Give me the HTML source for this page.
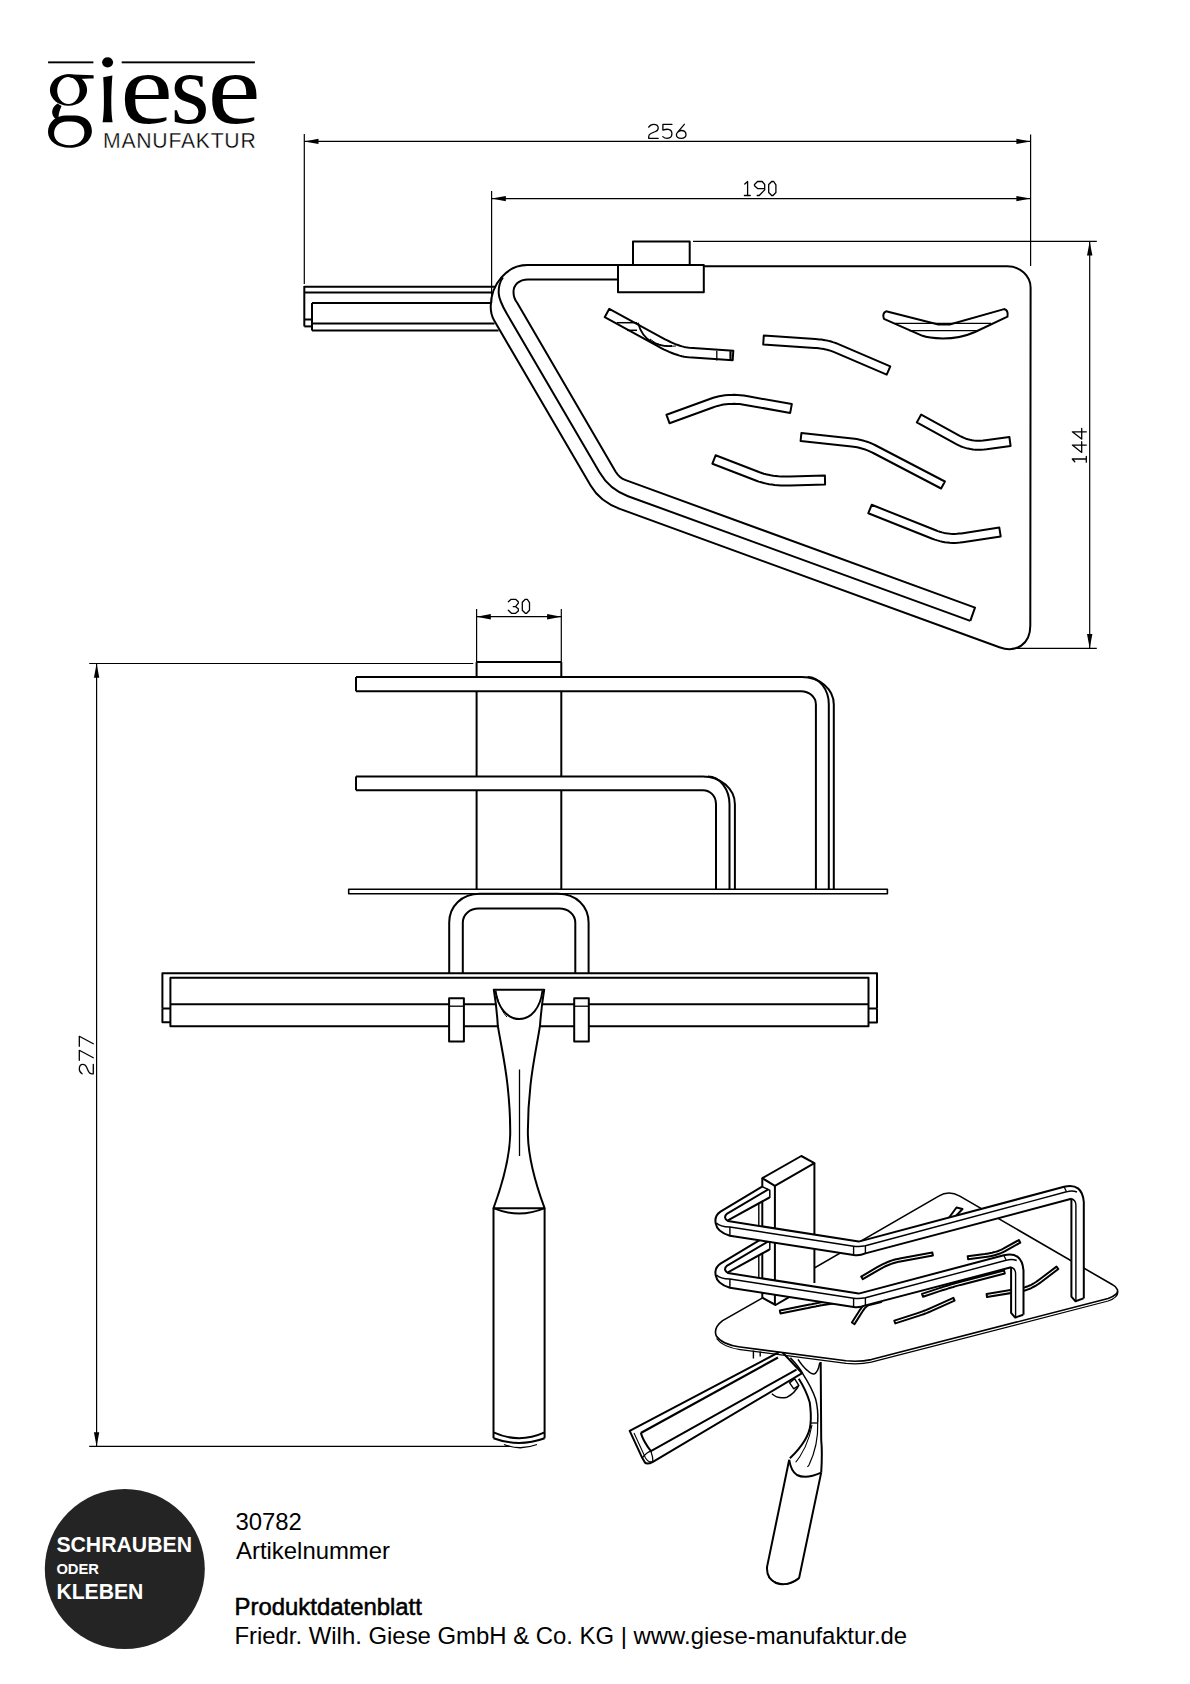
<!DOCTYPE html>
<html><head><meta charset="utf-8">
<style>
html,body{margin:0;padding:0;background:#fff;}
body{width:1190px;height:1684px;overflow:hidden;position:relative;}
svg{position:absolute;left:0;top:0;}
</style></head><body>
<svg width="1190" height="1684" viewBox="0 0 1190 1684" stroke="#000" fill="none" stroke-linecap="butt">
<line x1="304.3" y1="134.0" x2="304.3" y2="284.0" stroke-width="1.2"/>
<line x1="1030.6" y1="134.5" x2="1030.6" y2="266.0" stroke-width="1.2"/>
<line x1="304.3" y1="141.4" x2="1030.6" y2="141.4" stroke-width="1.2"/>
<path d="M304.3,141.4 L318.5,138.7 L318.5,144.1 Z" fill="#000" stroke="none"/>
<path d="M1030.6,141.4 L1016.4,144.1 L1016.4,138.7 Z" fill="#000" stroke="none"/>
<g transform="translate(648.7,124.3) scale(1.0)" stroke-width="1.30" fill="none" stroke-linejoin="round" stroke-linecap="round"><path transform="translate(0.00,0)" d="M0,2.8 Q1.8,0 4.8,0 Q9.5,0 9.5,3.6 Q9.5,6 6.8,7.2 L2.2,9.2 Q0,10.2 0,12.4 L0,14 L9.5,14"/><path transform="translate(13.90,0)" d="M9.4,0 L0.3,0 L0.3,5.8 Q3,4.8 5.8,5 Q9.3,5.5 9.3,9.5 Q9.3,14 4.6,14 Q2,14 0.2,12.3"/><path transform="translate(27.70,0)" d="M7.9,0 L1.1,8 Q0,9.3 0,10.5 Q0,14 4.8,14 Q9.6,14 9.6,10.2 Q9.6,6.2 4.8,6.2 Q2.6,6.2 1.1,8"/></g>
<line x1="491.6" y1="191.0" x2="491.6" y2="303.0" stroke-width="1.2"/>
<line x1="491.6" y1="198.6" x2="1030.6" y2="198.6" stroke-width="1.2"/>
<path d="M491.6,198.6 L505.8,195.9 L505.8,201.3 Z" fill="#000" stroke="none"/>
<path d="M1030.6,198.6 L1016.4,201.3 L1016.4,195.9 Z" fill="#000" stroke="none"/>
<g transform="translate(744.6,181.5) scale(1.0)" stroke-width="1.30" fill="none" stroke-linejoin="round" stroke-linecap="round"><path transform="translate(0.00,0)" d="M0.2,2.5 L3,0 L3,14 M-0.2,14 L5.6,14"/><path transform="translate(9.60,0)" d="M0.3,3 L3.3,0 L8,0 L10.5,3 L10.5,8.4 L5,14 L3,14 M10.5,7.2 L3.6,7.2 L0.3,4.3 L0.3,3"/><path transform="translate(24.10,0)" d="M0,3 L3,0 L5,0 L7.2,3.3 L7.2,11 L4.3,14 L3,14 L0,11 Z"/></g>
<line x1="693.0" y1="241.4" x2="1096.8" y2="241.4" stroke-width="1.2"/>
<line x1="1012.0" y1="648.3" x2="1096.8" y2="648.3" stroke-width="1.2"/>
<line x1="1089.7" y1="241.4" x2="1089.7" y2="648.3" stroke-width="1.2"/>
<path d="M1089.7,241.4 L1092.4,255.6 L1087.0,255.6 Z" fill="#000" stroke="none"/>
<path d="M1089.7,648.3 L1087.0,634.1 L1092.4,634.1 Z" fill="#000" stroke="none"/>
<g transform="translate(1072.3,462.0) rotate(-90) scale(1.0)" stroke-width="1.30" fill="none" stroke-linejoin="round" stroke-linecap="round"><path transform="translate(0.00,0)" d="M0.2,2.5 L3,0 L3,14 M-0.2,14 L5.6,14"/><path transform="translate(9.60,0)" d="M7.3,14 L7.3,0 L0,9.4 L10.7,9.4"/><path transform="translate(22.90,0)" d="M7.3,14 L7.3,0 L0,9.4 L10.7,9.4"/></g>
<line x1="476.6" y1="609.0" x2="476.6" y2="662.0" stroke-width="1.2"/>
<line x1="561.3" y1="609.0" x2="561.3" y2="662.0" stroke-width="1.2"/>
<line x1="476.6" y1="616.7" x2="561.3" y2="616.7" stroke-width="1.2"/>
<path d="M476.6,616.7 L490.8,614.0 L490.8,619.4 Z" fill="#000" stroke="none"/>
<path d="M561.3,616.7 L547.1,619.4 L547.1,614.0 Z" fill="#000" stroke="none"/>
<g transform="translate(508.3,599.3) scale(1.0)" stroke-width="1.30" fill="none" stroke-linejoin="round" stroke-linecap="round"><path transform="translate(0.00,0)" d="M0,2.4 L2.9,0 L7.3,0 L10,2.5 L10,3.9 L7.3,7.4 L5,7.4 M7.3,7.4 L10,9.5 L10,11.6 L7.3,14 L3.2,14 L0,11"/><path transform="translate(14.00,0)" d="M0,3 L3,0 L5,0 L7.2,3.3 L7.2,11 L4.3,14 L3,14 L0,11 Z"/></g>
<line x1="89.2" y1="663.5" x2="473.3" y2="663.5" stroke-width="1.2"/>
<line x1="89.2" y1="1446.4" x2="510.0" y2="1446.4" stroke-width="1.2"/>
<line x1="96.6" y1="663.5" x2="96.6" y2="1446.4" stroke-width="1.2"/>
<path d="M96.6,663.5 L99.3,677.7 L93.9,677.7 Z" fill="#000" stroke="none"/>
<path d="M96.6,1446.4 L93.9,1432.2 L99.3,1432.2 Z" fill="#000" stroke="none"/>
<g transform="translate(79.3,1073.8) rotate(-90) scale(1.0)" stroke-width="1.30" fill="none" stroke-linejoin="round" stroke-linecap="round"><path transform="translate(0.00,0)" d="M0,2.8 Q1.8,0 4.8,0 Q9.5,0 9.5,3.6 Q9.5,6 6.8,7.2 L2.2,9.2 Q0,10.2 0,12.4 L0,14 L9.5,14"/><path transform="translate(13.50,0)" d="M0,0 L10,0 L2.6,14"/><path transform="translate(27.50,0)" d="M0,0 L10,0 L2.6,14"/></g>
<g stroke-linejoin="round">
<line x1="304.3" y1="286.8" x2="495.5" y2="286.8" stroke-width="2.0"/>
<line x1="304.3" y1="292.4" x2="492.5" y2="292.4" stroke-width="2.0"/>
<line x1="312.0" y1="302.9" x2="490.6" y2="302.9" stroke-width="2.0"/>
<line x1="312.0" y1="323.5" x2="494.5" y2="323.5" stroke-width="2.0"/>
<line x1="312.0" y1="330.4" x2="498.6" y2="330.4" stroke-width="2.0"/>
<line x1="304.3" y1="286.0" x2="304.3" y2="326.4" stroke-width="2.0"/>
<line x1="304.3" y1="326.4" x2="312.0" y2="326.4" stroke-width="2.0"/>
<line x1="304.3" y1="319.5" x2="312.0" y2="319.5" stroke-width="2.0"/>
<line x1="312.0" y1="302.9" x2="312.0" y2="330.6" stroke-width="2.0"/>
<path d="M618,265.1 L527.5,265.1 C507,265.1 490.7,284 490.7,306.5 C490.7,312 491.8,316.5 494.2,320.6 L590.6,485.6 Q600,501.7 619.8,508.9 L999.4,647.3 C1016.4,653.5 1030.3,643.8 1030.3,625.7 L1030.6,287.7 C1030.6,275.9 1020.1,266.2 1007.3,266.2 L703.8,266.2" stroke-width="2.0" fill="none" />
<path d="M503,277.5 C499.5,282 498.5,288 498.7,293.4 C499,300 504.3,309.3 506.6,313.3 L599.5,472.3 Q609.4,489.4 628,496.2 L970.3,620.9" stroke-width="2.0" fill="none" />
<path d="M618,279.4 L528,279.4 C519,279.4 513.5,285 513.5,292 C513.5,296 515,300 517,302.5 L615.5,471.5 Q619.5,478 625,479.9 L975,607.6 L970.3,620.9" stroke-width="2.0" fill="none" />
<rect x="633" y="241.4" width="56.7" height="23.5" stroke-width="2.0" fill="none"/>
<rect x="618" y="265" width="85.8" height="27.3" stroke-width="2.0" fill="none"/>
<path d="M604.7,317.2 L657.7,346.2 L660.7,347.8 L663.6,349.3 L666.5,350.6 L669.2,351.9 L671.9,353.0 L674.5,354.0 L677.1,354.8 L679.5,355.6 L681.9,356.2 L684.2,356.7 L686.5,357.0 L688.7,357.2 L732.7,360.2 L733.3,350.8 L689.3,347.8 L687.7,347.6 L685.9,347.3 L684.1,346.9 L682.1,346.4 L680.0,345.8 L677.8,345.0 L675.4,344.1 L673.0,343.1 L670.5,342.0 L667.9,340.7 L665.1,339.3 L662.3,337.8 L609.3,308.8 Z" stroke-width="2.0" fill="none" />
<path d="M763.2,344.5 L814.7,348.0 L816.7,348.1 L818.6,348.3 L820.4,348.6 L822.2,348.8 L823.9,349.1 L825.5,349.4 L827.1,349.8 L828.7,350.2 L830.2,350.6 L831.6,351.1 L832.9,351.6 L834.2,352.1 L886.7,374.6 L890.3,366.4 L837.8,343.9 L836.2,343.2 L834.5,342.6 L832.8,342.1 L831.1,341.5 L829.3,341.1 L827.4,340.6 L825.5,340.3 L823.6,339.9 L821.6,339.6 L819.5,339.4 L817.5,339.2 L815.3,339.0 L763.8,335.5 Z" stroke-width="2.0" fill="none" />
<path d="M669.5,423.2 L713.5,407.2 L716.0,406.4 L718.5,405.7 L721.0,405.1 L723.5,404.6 L726.1,404.2 L728.7,404.0 L731.4,403.9 L734.1,403.8 L736.8,403.9 L739.6,404.1 L742.4,404.5 L745.2,404.9 L790.2,412.9 L791.8,404.1 L746.8,396.1 L743.6,395.6 L740.4,395.2 L737.3,394.9 L734.2,394.8 L731.1,394.9 L728.1,395.0 L725.0,395.3 L722.1,395.7 L719.1,396.3 L716.2,397.0 L713.3,397.8 L710.5,398.8 L666.5,414.8 Z" stroke-width="2.0" fill="none" />
<path d="M712.4,463.7 L756.4,480.7 L758.8,481.6 L761.2,482.3 L763.8,483.0 L766.4,483.6 L769.1,484.2 L771.9,484.6 L774.7,485.0 L777.7,485.2 L780.7,485.4 L783.7,485.5 L786.9,485.6 L790.1,485.5 L825.1,484.5 L824.9,475.5 L789.9,476.5 L786.9,476.6 L783.9,476.5 L781.1,476.4 L778.4,476.3 L775.7,476.0 L773.2,475.7 L770.7,475.3 L768.3,474.8 L766.0,474.3 L763.8,473.7 L761.7,473.0 L759.6,472.3 L715.6,455.3 Z" stroke-width="2.0" fill="none" />
<path d="M800.6,441.0 L851.6,446.5 L853.5,446.7 L855.3,447.0 L857.2,447.3 L859.0,447.7 L860.8,448.2 L862.6,448.7 L864.4,449.3 L866.2,449.9 L868.0,450.6 L869.7,451.4 L871.4,452.2 L873.2,453.0 L941.1,488.5 L944.9,481.5 L876.8,446.0 L874.9,445.0 L873.0,444.1 L871.0,443.2 L869.0,442.4 L867.0,441.7 L865.0,441.1 L862.9,440.5 L860.8,440.0 L858.8,439.5 L856.7,439.1 L854.6,438.8 L852.4,438.5 L801.4,433.0 Z" stroke-width="2.0" fill="none" />
<path d="M916.8,422.4 L955.8,443.9 L958.2,445.1 L960.5,446.2 L963.0,447.1 L965.4,447.9 L968.0,448.6 L970.5,449.1 L973.1,449.5 L975.7,449.7 L978.4,449.8 L981.1,449.8 L983.9,449.6 L986.6,449.3 L1010.6,446.0 L1009.4,437.0 L985.4,440.3 L983.0,440.6 L980.7,440.8 L978.5,440.8 L976.3,440.7 L974.1,440.5 L972.0,440.2 L970.0,439.8 L967.9,439.3 L965.9,438.7 L964.0,437.9 L962.1,437.0 L960.2,436.1 L921.2,414.6 Z" stroke-width="2.0" fill="none" />
<path d="M868.3,513.2 L932.3,538.7 L934.8,539.6 L937.3,540.4 L939.8,541.1 L942.3,541.7 L944.8,542.2 L947.3,542.5 L949.9,542.8 L952.4,542.9 L955.0,542.9 L957.5,542.8 L960.1,542.6 L962.7,542.2 L1000.7,536.4 L999.3,527.6 L961.3,533.4 L959.1,533.6 L957.0,533.8 L954.8,533.9 L952.7,533.9 L950.5,533.8 L948.4,533.6 L946.3,533.3 L944.1,532.9 L942.0,532.4 L939.9,531.8 L937.8,531.1 L935.7,530.3 L871.7,504.8 Z" stroke-width="2.0" fill="none" />
<path d="M886.1,311.3 L938.3,324.5 L949.7,324.5 L1004.1,309.1 Q1008.5,310 1007.5,316.6 L975,332 Q960,338.6 942.9,338.6 Q928,338 922.5,335.8 L883.9,318.8 Q882,313 886.1,311.3 Z" stroke-width="2.0" fill="none" />
<line x1="895.0" y1="323.4" x2="991.0" y2="323.4" stroke-width="1.4"/>
<line x1="909.0" y1="330.6" x2="977.0" y2="330.6" stroke-width="1.4"/>
<line x1="616.8" y1="322.7" x2="637.0" y2="322.7" stroke-width="1.5"/>
<line x1="627.0" y1="330.3" x2="637.0" y2="330.3" stroke-width="1.5"/>
<path d="M637.9,322.7 Q642,337 652,342 Q662,347 672,346" stroke-width="1.8" fill="none" />
<path d="M650,339 Q660,348 676,346" stroke-width="1.0" fill="none" />
<line x1="716.8" y1="350.8" x2="716.8" y2="360.4" stroke-width="1.3"/>
<line x1="730.5" y1="351.2" x2="730.5" y2="360.6" stroke-width="2.2"/>
</g>
<g stroke-linejoin="round">
<line x1="476.6" y1="662.1" x2="476.6" y2="677.0" stroke-width="2.0"/>
<line x1="476.6" y1="691.2" x2="476.6" y2="776.4" stroke-width="2.0"/>
<line x1="476.6" y1="790.2" x2="476.6" y2="889.3" stroke-width="2.0"/>
<line x1="561.3" y1="662.1" x2="561.3" y2="677.0" stroke-width="2.0"/>
<line x1="561.3" y1="691.2" x2="561.3" y2="776.4" stroke-width="2.0"/>
<line x1="561.3" y1="790.2" x2="561.3" y2="889.3" stroke-width="2.0"/>
<line x1="476.6" y1="662.1" x2="561.3" y2="662.1" stroke-width="2.0"/>
<path d="M356,677 L802,677 C819.5,677 833.8,689.3 833.8,704.4 L833.8,889.3" stroke-width="2.0" fill="none" />
<path d="M807.6,677 C819.3,677 828.8,690 828.8,704 L828.8,889.3" stroke-width="2.0" fill="none" />
<path d="M356,691.2 L801,691.2 C809.2,691.2 815.9,697.2 815.9,704.4 L815.9,889.3" stroke-width="2.0" fill="none" />
<line x1="356.0" y1="677.0" x2="356.0" y2="691.2" stroke-width="2.0"/>
<path d="M356,776.4 L703,776.4 C720.5,776.4 734.9,789 734.9,804.2 L734.9,889.3" stroke-width="2.0" fill="none" />
<path d="M708,776.4 C720,776.4 729.5,789.5 729.5,804.2 L729.5,889.3" stroke-width="2.0" fill="none" />
<path d="M356,790.2 L703,790.2 C710.2,790.2 716,796 716,804.2 L716,889.3" stroke-width="2.0" fill="none" />
<line x1="356.0" y1="776.4" x2="356.0" y2="790.2" stroke-width="2.0"/>
<rect x="348.7" y="889.3" width="538.7" height="4.4" stroke-width="1.6" fill="none"/>
<path d="M449.2,973.3 L449.2,922.8 C449.2,906 462,893.7 479.8,893.7 L558,893.7 C576,893.7 588.6,906 588.6,922.8 L588.6,973.3" stroke-width="2.0" fill="none" />
<path d="M462.8,973.3 L462.8,922.8 C462.8,914 470,908.6 478.7,908.6 L559.1,908.6 C568,908.6 575.3,914 575.3,922.8 L575.3,973.3" stroke-width="2.0" fill="none" />
<path d="M162.4,1008.4 L162.4,973.3 L877,973.3 L877,1008.4" stroke-width="2.0" fill="none" />
<path d="M162.4,1008.4 L162.4,1022.3 L170.4,1022.3 M162.4,1008.4 L170.4,1008.4 M877,1008.4 L877,1022.5 L868.5,1022.5 M877,1008.4 L868.5,1008.4" stroke-width="2.0" fill="none" />
<rect x="170.4" y="977.7" width="698.1" height="48.5" stroke-width="2.0" fill="none"/>
<line x1="170.4" y1="1004.3" x2="868.5" y2="1004.3" stroke-width="2.0"/>
<rect x="449.1" y="998.2" width="14.8" height="43.4" stroke-width="2.0" fill="#fff"/>
<rect x="574.2" y="998.2" width="14.6" height="43.4" stroke-width="2.0" fill="#fff"/>
<line x1="449.1" y1="1006.2" x2="463.9" y2="1006.2" stroke-width="1.3"/>
<line x1="574.2" y1="1006.2" x2="588.8" y2="1006.2" stroke-width="1.3"/>
<path d="M493.8,989.7 L544.2,989.7 C542.5,1000 541,1012 540,1025.7 C537,1045 533,1062 530.5,1085 C528.3,1105 527.7,1119 527.9,1135 C528.5,1160 536,1185 544.6,1208.2 L493.5,1208.2 C502,1185 509.5,1160 510.2,1135 C510.4,1119 509.7,1105 507.5,1085 C505,1062 501,1045 497.8,1025.7 C497,1012 495.5,1000 493.8,989.7 Z" stroke-width="2.0" fill="#fff" />
<path d="M495.5,990.5 C497.5,1008 508,1019 519.3,1019 C531,1019 540.5,1008 542.5,990.5" stroke-width="2.0" fill="none" />
<path d="M496,993 C499,1005 503,1013 507,1017" stroke-width="1.0" fill="none" />
<line x1="519.5" y1="1069.5" x2="519.5" y2="1156.0" stroke-width="1.3"/>
<path d="M493.5,1208.2 L493.5,1438.2 M544.6,1208.2 L544.6,1438.2" stroke-width="2.0" fill="none" />
<path d="M493.5,1208.2 Q519,1219 544.6,1208.2" stroke-width="2.0" fill="none" />
<path d="M493.5,1432.4 Q519,1444 544.6,1432.4" stroke-width="2.0" fill="none" />
<path d="M493.5,1438.2 Q519,1447.6 544.6,1438.2" stroke-width="2.0" fill="none" />
<path d="M504,1444.5 Q520,1451 537,1444.5" stroke-width="1.3" fill="none" />
</g>
<g stroke-linejoin="round">
<path d="M629.7,1430.9 L781.2,1351 L802.2,1373.2 L652.9,1461.8 Q647,1465 644.9,1462.5 L642.2,1457.8 Z" stroke-width="2.0" fill="#fff" />
<path d="M640.8,1432.9 L778,1357.5" stroke-width="2.3" fill="none" />
<path d="M640.8,1432.9 Q643.5,1441.7 650.9,1451.1 L796.5,1369.6" stroke-width="2.0" fill="none" />
<path d="M634,1433 L645.5,1458 Q648,1462.5 652.9,1461.8" stroke-width="1.1" fill="none" />
<path d="M642.2,1457.8 Q647,1452 650.9,1451.1 Q653,1457 652.9,1461.8" stroke-width="1.3" fill="none" />
<line x1="753.4" y1="1350.5" x2="753.4" y2="1358.5" stroke-width="1.4"/>
<line x1="760.2" y1="1351.5" x2="760.2" y2="1356.5" stroke-width="1.4"/>
<path d="M771.9,1393.8 Q778,1399.5 787.1,1397.2 Q795,1393 798.8,1385.4" stroke-width="1.5" fill="none" />
<path d="M789.6,1382.9 L794.6,1378.7 L798.8,1385.4 L793.8,1388.8 Z" stroke-width="1.4" fill="none" />
<path d="M790.4,1357.7 Q800,1368 802.2,1372.8 Q812,1388 815.6,1398.9 Q818.5,1410 817.7,1422.7" stroke-width="1.5" fill="none" />
<path d="M798.8,1378.7 Q806,1390 809.7,1402.2 Q811.5,1415 810.5,1424.1 Q809,1440 789.9,1458.3" stroke-width="2.0" fill="none" />
<path d="M820.7,1361.9 L821.2,1440 Q822.5,1452 821.2,1472.6" stroke-width="2.0" fill="none" />
<line x1="810.5" y1="1423.0" x2="818.0" y2="1423.0" stroke-width="1.3"/>
<path d="M798,1359.4 Q803,1367 807.2,1370.3 Q811,1374 813.9,1374.1 Q818,1373 819.8,1362.7" stroke-width="1.5" fill="none" />
<path d="M817.7,1422.7 Q818.5,1445 809,1465 Q803,1474 796,1476" stroke-width="1.2" fill="none" />
<path d="M812,1425 Q808,1448 793,1466" stroke-width="1.1" fill="none" />
<path d="M789.2,1459.8 L767.1,1566.6 Q766,1578 776,1583 Q787,1587 799.1,1578 L821.2,1472.6" stroke-width="2.0" fill="#fff" />
<path d="M789.2,1459.8 Q791,1471 797,1475 Q806,1479.5 821.2,1472.6" stroke-width="2.0" fill="none" />
<path d="M768.5,1577 Q772,1582.5 784,1584.5 Q793,1584 799,1578.5" stroke-width="1.1" fill="none" />
<path d="M762.6,1297.9 L722.6,1320.6 Q713,1328 716.3,1336 Q722,1344.5 740.2,1347 L846.1,1360.8 Q860,1362 871.3,1359.6 L1108.1,1298.4 Q1119.5,1294.5 1117.2,1289.3 Q1115.5,1286 1112.6,1284.8 L959.8,1196.1 Q948.7,1190 938.7,1196.1 Z" stroke-width="1.6" fill="#fff" />
<path d="M716.5,1338.5 Q723,1347.2 740.2,1349.6 L846.1,1363.4 Q860,1364.6 871.3,1362.2 L1108.1,1301 Q1118,1297.6 1118,1291.5" stroke-width="1.2" fill="none" />
<path d="M862.8,1279.2 L878.8,1269.8 L880.6,1268.8 L882.4,1267.8 L884.2,1266.9 L886.0,1266.0 L887.8,1265.3 L889.6,1264.5 L891.3,1263.9 L893.1,1263.3 L894.9,1262.7 L896.7,1262.3 L898.5,1261.8 L900.3,1261.5 L932.9,1255.5 L932.3,1252.5 L899.7,1258.5 L897.9,1258.9 L896.0,1259.3 L894.1,1259.8 L892.2,1260.4 L890.3,1261.0 L888.5,1261.7 L886.6,1262.5 L884.7,1263.3 L882.9,1264.2 L881.0,1265.1 L879.1,1266.1 L877.2,1267.2 L861.2,1276.6 Z" stroke-width="2.0" fill="none" />
<path d="M968.1,1259.2 L985.2,1257.0 L987.2,1256.7 L989.1,1256.4 L990.9,1256.1 L992.7,1255.7 L994.4,1255.3 L996.1,1254.8 L997.7,1254.3 L999.2,1253.8 L1000.7,1253.2 L1002.1,1252.6 L1003.5,1252.0 L1004.7,1251.3 L1020.3,1242.6 L1018.9,1240.0 L1003.3,1248.7 L1002.1,1249.3 L1000.9,1249.9 L999.6,1250.4 L998.2,1251.0 L996.8,1251.5 L995.3,1251.9 L993.7,1252.3 L992.1,1252.7 L990.3,1253.1 L988.6,1253.4 L986.7,1253.7 L984.8,1254.0 L967.7,1256.2 Z" stroke-width="2.0" fill="none" />
<path d="M923.0,1296.7 L940.5,1290.9 L942.3,1290.3 L944.1,1289.7 L946.0,1289.2 L947.8,1288.6 L949.6,1288.0 L951.4,1287.5 L953.3,1287.0 L955.1,1286.4 L956.9,1285.9 L958.7,1285.4 L960.6,1284.9 L962.4,1284.5 L1004.8,1273.5 L1004.0,1270.5 L961.6,1281.5 L959.8,1282.0 L957.9,1282.5 L956.1,1283.0 L954.3,1283.5 L952.4,1284.1 L950.6,1284.6 L948.7,1285.2 L946.9,1285.7 L945.1,1286.3 L943.2,1286.9 L941.4,1287.5 L939.5,1288.1 L922.0,1293.9 Z" stroke-width="2.0" fill="none" />
<path d="M987.0,1297.0 L1020.2,1291.5 L1022.0,1291.1 L1023.8,1290.7 L1025.6,1290.2 L1027.3,1289.6 L1029.1,1289.0 L1030.8,1288.3 L1032.5,1287.4 L1034.2,1286.5 L1035.9,1285.6 L1037.6,1284.5 L1039.3,1283.4 L1040.9,1282.2 L1058.3,1269.0 L1056.5,1266.6 L1039.1,1279.8 L1037.5,1280.9 L1036.0,1282.0 L1034.4,1283.0 L1032.8,1283.9 L1031.2,1284.8 L1029.6,1285.5 L1028.0,1286.2 L1026.3,1286.8 L1024.7,1287.4 L1023.1,1287.8 L1021.4,1288.2 L1019.8,1288.5 L986.6,1294.0 Z" stroke-width="2.0" fill="none" />
<path d="M780.4,1313.4 L805.3,1308.5 L807.9,1308.0 L810.2,1307.5 L812.3,1307.1 L814.1,1306.7 L815.7,1306.4 L817.1,1306.1 L818.2,1305.9 L819.1,1305.7 L819.8,1305.6 L820.2,1305.5 L820.5,1305.4 L820.2,1305.5 L834.5,1303.3 L834.1,1300.3 L819.8,1302.5 L819.6,1302.6 L819.6,1302.6 L819.2,1302.7 L818.5,1302.8 L817.6,1303.0 L816.5,1303.2 L815.1,1303.5 L813.5,1303.8 L811.7,1304.2 L809.6,1304.6 L807.3,1305.0 L804.7,1305.5 L779.8,1310.4 Z" stroke-width="2.0" fill="none" />
<path d="M854.5,1324.1 L862.3,1311.8 L862.9,1310.8 L863.6,1309.9 L864.2,1309.0 L864.9,1308.2 L865.5,1307.5 L866.1,1306.9 L866.7,1306.4 L867.3,1306.0 L867.8,1305.6 L868.4,1305.3 L868.9,1305.1 L869.4,1305.0 L881.3,1302.1 L880.5,1299.1 L868.6,1302.0 L867.8,1302.3 L867.1,1302.6 L866.3,1303.0 L865.5,1303.5 L864.8,1304.1 L864.1,1304.7 L863.3,1305.5 L862.6,1306.3 L861.9,1307.1 L861.2,1308.1 L860.5,1309.1 L859.7,1310.2 L851.9,1322.5 Z" stroke-width="2.0" fill="none" />
<path d="M895.3,1323.4 L915.5,1316.9 L917.0,1316.4 L918.6,1315.9 L920.0,1315.4 L921.4,1314.9 L922.8,1314.5 L924.1,1314.0 L925.3,1313.5 L926.5,1313.1 L927.6,1312.6 L928.6,1312.2 L929.7,1311.8 L930.6,1311.4 L954.6,1300.7 L953.4,1297.9 L929.4,1308.6 L928.5,1309.0 L927.5,1309.4 L926.5,1309.9 L925.4,1310.3 L924.2,1310.7 L923.0,1311.2 L921.8,1311.6 L920.4,1312.1 L919.0,1312.6 L917.6,1313.1 L916.1,1313.6 L914.5,1314.1 L894.3,1320.6 Z" stroke-width="2.0" fill="none" />
<path d="M948,1219 L956.5,1207.5 L962.5,1209 L954,1218 Z" stroke-width="2.0" fill="none" />
<path d="M762.3,1178.2 L801.3,1156 L814.4,1163.1 L814.4,1283 L775.6,1305 L762.6,1297.9 Z" fill="#fff" stroke="none"/>
<path d="M762.3,1178.2 L801.3,1156 L814.4,1163.1 L774.9,1185.8 Z" stroke-width="2.0" fill="none" />
<line x1="762.3" y1="1178.2" x2="762.3" y2="1297.9" stroke-width="2.0"/>
<line x1="774.9" y1="1185.8" x2="774.9" y2="1305.0" stroke-width="2.0"/>
<line x1="814.4" y1="1163.1" x2="814.4" y2="1283.0" stroke-width="2.0"/>
<line x1="758.8" y1="1199.0" x2="758.8" y2="1278.0" stroke-width="1.4"/>
<path d="M762.6,1297.9 L775.6,1305 L789.9,1296.6" stroke-width="2.0" fill="none" />
<path d="M762.1,1238.7 L720.5,1263.6 Q714.0,1268.0 715.8,1275.7 Q717.0,1284.0 729.9,1287.8 L853.6,1307.0 L865.4,1305.4 L1011.1,1267.3 L1011.1,1312.9 L1015.2,1317.6 L1023.2,1314.7 L1023.5,1270.3 Q1021.7,1253.5 1005.7,1255.0 L858.7,1293.6 L727.9,1273.0 L769.5,1249.5 L769.8,1242.4 Z" fill="#fff" stroke="none"/>
<path d="M762.1,1238.7 L720.5,1263.6 Q714.0,1268.0 715.8,1275.7 Q717.0,1284.0 729.9,1287.8 L853.6,1307.0 Q859.5,1308.0 865.4,1305.4 L1011.1,1267.3" stroke-width="2.0" fill="none" />
<path d="M768.2,1241.4 L727.2,1265.6 Q722.5,1269.5 727.9,1273.0 L858.7,1293.6 L1003.8,1255.3 Q1021.7,1251.0 1023.5,1270.3 L1023.5,1314.7" stroke-width="2.0" fill="none" />
<path d="M769.5,1249.5 L727.9,1272.3" stroke-width="2.0" fill="none" />
<path d="M716.4,1275.0 Q720.0,1278.8 729.9,1279.0 L853.6,1298.2 Q859.5,1299.0 865.4,1297.8 L1006.2,1260.3 Q1011.7,1258.5 1016.7,1260.5" stroke-width="1.4" fill="none" />
<path d="M1010.9,1267.3 Q1015.2,1268.3 1015.6,1273.2 L1015.6,1317.6" stroke-width="1.4" fill="none" />
<path d="M1011.1,1267.3 L1011.1,1312.9 L1015.2,1317.6 L1023.2,1314.7" stroke-width="2.0" fill="none" />
<path d="M729.9,1279.0 L729.9,1287.8 M853.6,1298.2 L853.6,1307.0 M865.4,1297.8 L865.4,1305.4" stroke-width="1.4" fill="none" />
<path d="M762.1,1238.7 L768.2,1241.4 L769.8,1242.4 L769.8,1250.0" stroke-width="1.5" fill="none" />
<path d="M1003.8,1255.3 L1006.2,1260.3" stroke-width="1.3" fill="none" />
<path d="M762.1,1186.7 L720.5,1211.6 Q714.0,1216.0 715.8,1223.7 Q717.0,1232.0 729.9,1235.8 L853.6,1255.0 L865.4,1253.4 L1071.4,1198.8 L1071.4,1296.6 L1075.5,1301.3 L1083.5,1298.4 L1083.8,1201.8 Q1082.0,1185.0 1066.0,1186.5 L858.7,1241.6 L727.9,1221.0 L769.5,1197.5 L769.8,1190.4 Z" fill="#fff" stroke="none"/>
<path d="M762.1,1186.7 L720.5,1211.6 Q714.0,1216.0 715.8,1223.7 Q717.0,1232.0 729.9,1235.8 L853.6,1255.0 Q859.5,1256.0 865.4,1253.4 L1071.4,1198.8" stroke-width="2.0" fill="none" />
<path d="M768.2,1189.4 L727.2,1213.6 Q722.5,1217.5 727.9,1221.0 L858.7,1241.6 L1064.1,1186.8 Q1082.0,1182.5 1083.8,1201.8 L1083.8,1298.4" stroke-width="2.0" fill="none" />
<path d="M769.5,1197.5 L727.9,1220.3" stroke-width="2.0" fill="none" />
<path d="M716.4,1223.0 Q720.0,1226.8 729.9,1227.0 L853.6,1246.2 Q859.5,1247.0 865.4,1245.8 L1066.5,1191.8 Q1072.0,1190.0 1077.0,1192.0" stroke-width="1.4" fill="none" />
<path d="M1071.2,1198.8 Q1075.5,1199.8 1075.9,1204.7 L1075.9,1301.3" stroke-width="1.4" fill="none" />
<path d="M1071.4,1198.8 L1071.4,1296.6 L1075.5,1301.3 L1083.5,1298.4" stroke-width="2.0" fill="none" />
<path d="M729.9,1227.0 L729.9,1235.8 M853.6,1246.2 L853.6,1255.0 M865.4,1245.8 L865.4,1253.4" stroke-width="1.4" fill="none" />
<path d="M762.1,1186.7 L768.2,1189.4 L769.8,1190.4 L769.8,1198.0" stroke-width="1.5" fill="none" />
<path d="M1064.1,1186.8 L1066.5,1191.8" stroke-width="1.3" fill="none" />
</g>
<g fill="#000" stroke="none">
<rect x="48.1" y="61.4" width="45.3" height="1.9"/>
<rect x="121.7" y="61.4" width="133.2" height="1.9"/>
<ellipse cx="107.6" cy="62.3" rx="5.5" ry="5.1"/>
<path fill-rule="evenodd" d="M49.9,90 A18.6,15.8 0 1 0 87.1,90 A18.6,15.8 0 1 0 49.9,90 Z M57.2,90.5 A11.2,13.6 0 1 0 79.6,90.5 A11.2,13.6 0 1 0 57.2,90.5 Z"/>
<path d="M66,74.3 Q80,74.6 93.6,75.2 L93.6,78.6 Q86,78.4 79,78.9 Q74,78 70,77.5 Z"/>
<path fill-rule="evenodd" d="M48,132 C48,122 56,115.4 66,115.4 L75,115.4 C85,115.6 91.9,121.5 91.9,131 C91.9,141 82,147.8 70,147.8 C57,147.8 48,141 48,132 Z M54.1,133.5 C54.1,140.5 60.5,145.2 69.5,145.2 C78.5,145.2 84.4,140 84.4,132.5 C84.4,125.8 79,121.6 71,121.6 L67,121.6 C59,121.6 54.1,127 54.1,133.5 Z"/>
<path d="M57.5,103.5 C53,106.5 52,110 52.2,113 C52.5,116.5 55,119 58.5,120.5 L61,121.8 C59,120 58.5,118 58.6,116 C58.8,113 59.8,110.5 61.5,106 Z"/>
<path d="M103.2,77.2 L112.4,75.6 C111.6,85 111.2,95 111.3,105 C111.4,112 111.8,117 112.6,122.2 L102.6,122.2 C103.4,117 103.8,112 103.9,105 C104,95 103.9,86 103.2,77.2 Z"/>
<text transform="translate(120.2,122.6) scale(1.116,0.968)" font-family="Liberation Serif" font-size="106">e</text>
<text transform="translate(170.4,122.6) scale(0.947,0.968)" font-family="Liberation Serif" font-size="106">s</text>
<text transform="translate(207.5,122.6) scale(1.129,0.968)" font-family="Liberation Serif" font-size="106">e</text>
<text x="103" y="148.1" font-family="Liberation Sans" font-size="21.2" letter-spacing="0.75" stroke="#fff" stroke-width="0.3">MANUFAKTUR</text>
</g>
<circle cx="124.8" cy="1569" r="80" fill="#242424" stroke="none"/>
<g fill="#fff" stroke="none" font-family="Liberation Sans" font-weight="bold">
<text x="56.4" y="1552.4" font-size="22" textLength="135.6" lengthAdjust="spacingAndGlyphs">SCHRAUBEN</text>
<text x="56.4" y="1573.5" font-size="15" textLength="42.6" lengthAdjust="spacingAndGlyphs">ODER</text>
<text x="56.4" y="1598.7" font-size="22" textLength="87" lengthAdjust="spacingAndGlyphs">KLEBEN</text>
</g>
<g fill="#000" stroke="none" font-family="Liberation Sans">
<text x="235.4" y="1530.3" font-size="23.9">30782</text>
<text x="236" y="1558.7" font-size="23.9">Artikelnummer</text>
<text x="234.6" y="1615.3" font-size="23.9" stroke="#000" stroke-width="0.55">Produktdatenblatt</text>
<text x="234.4" y="1643.9" font-size="23.9">Friedr. Wilh. Giese GmbH &amp; Co. KG | www.giese-manufaktur.de</text>
</g>
</svg>
</body></html>
